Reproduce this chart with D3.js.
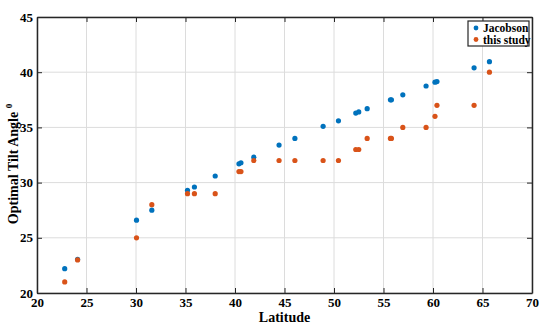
<!DOCTYPE html>
<html>
<head>
<meta charset="utf-8">
<script src="https://cdn.jsdelivr.net/npm/d3@7"></script>
<style>
  body { margin: 0; background: #fff; }
  text { font-family: "Liberation Serif", "Times New Roman", serif; font-weight: bold; }
</style>
</head>
<body>
<div id="chart"></div>
<script>
// latitude of each site (shared by both series)
const latitudes = [22.8, 24.1, 30.05, 31.6, 35.2, 35.9, 38.0, 40.4, 40.6, 41.9, 44.45, 46.05,
  48.9, 50.45, 52.2, 52.5, 53.35, 55.7, 55.8, 56.95, 59.3, 60.2, 60.4, 64.15, 65.7];
const jacobson = [22.2, 23.05, 26.6, 27.5, 29.3, 29.6, 30.6, 31.7, 31.8, 32.3, 33.4, 34.0,
  35.1, 35.6, 36.3, 36.4, 36.7, 37.5, 37.5, 37.95, 38.75, 39.1, 39.15, 40.4, 40.95];
const thisStudy = [21, 23, 25, 28, 29, 29, 29, 31, 31, 32, 32, 32,
  32, 32, 33, 33, 34, 34, 34, 35, 35, 36, 37, 37, 40];
const xTicks = [20, 25, 30, 35, 40, 45, 50, 55, 60, 65, 70];
const yTicks = [20, 25, 30, 35, 40, 45];
const seriesNames = ["Jacobson", "this study"];
const colors = ["#0072BD", "#D95319"];

const width = 550, height = 328;
const margin = { top: 17, right: 18, bottom: 35, left: 37 };

const svg = d3.select("#chart").append("svg")
  .attr("width", width)
  .attr("height", height);

const x = d3.scaleLinear().domain([20, 70]).range([margin.left, width - margin.right]);
const y = d3.scaleLinear().domain([20, 45]).range([height - margin.bottom, margin.top]);

// grid
svg.append("g")
  .selectAll("line")
  .data(xTicks)
  .join("line")
  .attr("x1", d => x(d)).attr("x2", d => x(d))
  .attr("y1", y(20)).attr("y2", y(45))
  .attr("stroke", "#dcdcdc").attr("stroke-width", 1);
svg.append("g")
  .selectAll("line")
  .data(yTicks)
  .join("line")
  .attr("x1", x(20)).attr("x2", x(70))
  .attr("y1", d => y(d)).attr("y2", d => y(d))
  .attr("stroke", "#dcdcdc").attr("stroke-width", 1);

// axes (ticks inward)
const axBottom = svg.append("g")
  .attr("transform", `translate(0,${y(20)})`)
  .call(d3.axisBottom(x).tickValues(xTicks).tickSizeInner(-5).tickSizeOuter(0).tickPadding(5));
const axTop = svg.append("g")
  .attr("transform", `translate(0,${y(45)})`)
  .call(d3.axisTop(x).tickValues(xTicks).tickSizeInner(-5).tickSizeOuter(0).tickFormat(""));
const axLeft = svg.append("g")
  .attr("transform", `translate(${x(20)},0)`)
  .call(d3.axisLeft(y).tickValues(yTicks).tickSizeInner(-5).tickSizeOuter(0).tickPadding(4));
const axRight = svg.append("g")
  .attr("transform", `translate(${x(70)},0)`)
  .call(d3.axisRight(y).tickValues(yTicks).tickSizeInner(-5).tickSizeOuter(0).tickFormat(""));

[axBottom, axTop, axLeft, axRight].forEach(a => {
  a.select(".domain").attr("stroke", "#262626").attr("stroke-width", 1.5);
  a.selectAll(".tick line").attr("stroke", "#262626");
  a.selectAll(".tick text")
    .attr("fill", "#000")
    .style("font-family", '"Liberation Serif", serif')
    .style("font-weight", "bold")
    .style("font-size", "13px");
});

// points
[jacobson, thisStudy].forEach((series, i) => {
  svg.append("g")
    .selectAll("circle")
    .data(latitudes.map((lat, j) => [lat, series[j]]))
    .join("circle")
    .attr("cx", d => x(d[0]))
    .attr("cy", d => y(d[1]))
    .attr("r", 2.6)
    .attr("fill", colors[i]);
});

// axis labels
svg.append("text")
  .attr("x", (x(20) + x(70)) / 2)
  .attr("y", 322)
  .attr("text-anchor", "middle")
  .attr("font-size", 14)
  .text("Latitude");

const yl = svg.append("text")
  .attr("transform", `translate(18,164) rotate(-90)`)
  .attr("text-anchor", "middle")
  .attr("font-size", 14);
yl.append("tspan").text("Optimal Tilt Angle ");
yl.append("tspan").attr("font-size", 9).attr("dy", -6).text("0");

// legend
const lg = svg.append("g").attr("transform", "translate(468,21)");
lg.append("rect")
  .attr("width", 61).attr("height", 25)
  .attr("fill", "#fff").attr("stroke", "#262626").attr("stroke-width", 1.2);
seriesNames.forEach((name, i) => {
  lg.append("circle").attr("cx", 8).attr("cy", 7 + i * 11.5).attr("r", 2.4).attr("fill", colors[i]);
  lg.append("text")
    .attr("x", 15).attr("y", 11 + i * 11.5)
    .attr("font-size", 11.5)
    .text(name);
});
</script>
</body>
</html>
